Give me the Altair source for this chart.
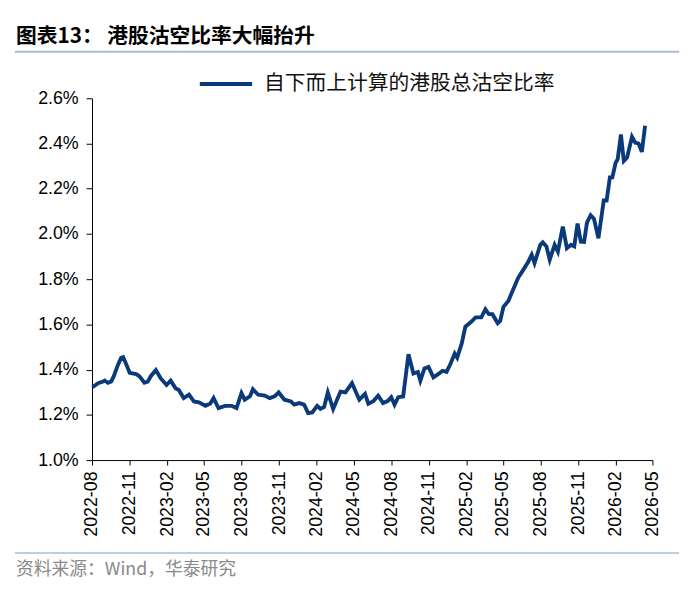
import altair as alt
import pandas as pd

TITLE = "图表13：   港股沽空比率大幅抬升"
SERIES = "自下而上计算的港股总沽空比率"
SOURCE = "资料来源：Wind，华泰研究"

dates = [
    "2022-08-02", "2022-08-16", "2022-08-28", "2022-09-01", "2022-09-09", "2022-09-17",
    "2022-09-23", "2022-10-03", "2022-10-11", "2022-10-16", "2022-10-22", "2022-11-01",
    "2022-11-17", "2022-11-25", "2022-12-07", "2022-12-15", "2022-12-23", "2023-01-04",
    "2023-01-16", "2023-01-30", "2023-02-09", "2023-02-21", "2023-03-01", "2023-03-13",
    "2023-03-26", "2023-04-07", "2023-04-19", "2023-05-05", "2023-05-17", "2023-05-25",
    "2023-06-06", "2023-06-22", "2023-07-08", "2023-07-20", "2023-08-01", "2023-08-09",
    "2023-08-22", "2023-08-29", "2023-09-11", "2023-09-27", "2023-10-09", "2023-10-21",
    "2023-10-31", "2023-11-14", "2023-11-30", "2023-12-08", "2023-12-20", "2024-01-01",
    "2024-01-11", "2024-01-21", "2024-02-02", "2024-02-10", "2024-02-19", "2024-02-28",
    "2024-03-12", "2024-03-30", "2024-04-11", "2024-04-27", "2024-05-15", "2024-05-29",
    "2024-06-06", "2024-06-18", "2024-06-30", "2024-07-12", "2024-07-24", "2024-08-01",
    "2024-08-09", "2024-08-18", "2024-08-30", "2024-09-12", "2024-09-24", "2024-10-05",
    "2024-10-11", "2024-10-21", "2024-10-31", "2024-11-12", "2024-11-26", "2024-12-04",
    "2024-12-14", "2024-12-24", "2025-01-03", "2025-01-09", "2025-01-20", "2025-01-29",
    "2025-02-11", "2025-02-23", "2025-03-09", "2025-03-19", "2025-03-27", "2025-04-05",
    "2025-04-18", "2025-04-24", "2025-05-02", "2025-05-14", "2025-05-26", "2025-06-07",
    "2025-06-19", "2025-07-01", "2025-07-10", "2025-07-17", "2025-07-31", "2025-08-06",
    "2025-08-15", "2025-08-23", "2025-09-04", "2025-09-12", "2025-09-24", "2025-10-04",
    "2025-10-14", "2025-10-22", "2025-10-30", "2025-11-07", "2025-11-15", "2025-11-22",
    "2025-12-01", "2025-12-09", "2025-12-20", "2026-01-02", "2026-01-09", "2026-01-17",
    "2026-01-23", "2026-01-31", "2026-02-05", "2026-02-13", "2026-02-20", "2026-02-28",
    "2026-03-12", "2026-03-20", "2026-03-28", "2026-04-05", "2026-04-13",
]

ratio_pct = [
    1.322, 1.340, 1.347, 1.352, 1.342, 1.348,
    1.370, 1.420, 1.452, 1.455, 1.430, 1.386,
    1.380, 1.370, 1.342, 1.347, 1.372, 1.398,
    1.361, 1.332, 1.351, 1.318, 1.310, 1.274,
    1.289, 1.259, 1.255, 1.240, 1.250, 1.274,
    1.230, 1.240, 1.240, 1.230, 1.296, 1.267,
    1.282, 1.313, 1.289, 1.285, 1.274, 1.282,
    1.299, 1.267, 1.259, 1.245, 1.252, 1.245,
    1.208, 1.211, 1.240, 1.226, 1.235, 1.299,
    1.226, 1.303, 1.299, 1.340, 1.267, 1.293,
    1.249, 1.260, 1.285, 1.252, 1.262, 1.278,
    1.245, 1.278, 1.281, 1.468, 1.383, 1.390,
    1.351, 1.405, 1.412, 1.366, 1.383, 1.395,
    1.390, 1.427, 1.471, 1.453, 1.515, 1.590,
    1.609, 1.631, 1.631, 1.667, 1.646, 1.645,
    1.605, 1.615, 1.678, 1.704, 1.755, 1.806,
    1.840, 1.875, 1.908, 1.871, 1.952, 1.963,
    1.945, 1.886, 1.952, 1.922, 2.032, 1.937,
    1.952, 1.945, 2.046, 1.966, 1.965, 2.050,
    2.083, 2.068, 1.981, 2.148, 2.148, 2.250,
    2.250, 2.315, 2.330, 2.440, 2.323, 2.338,
    2.430, 2.404, 2.400, 2.363, 2.479,
]

y_ticks = [1.0, 1.2, 1.4, 1.6, 1.8, 2.0, 2.2, 2.4, 2.6]
x_tick_months = [
    (2022, 8), (2022, 11), (2023, 2), (2023, 5), (2023, 8), (2023, 11),
    (2024, 2), (2024, 5), (2024, 8), (2024, 11), (2025, 2), (2025, 5),
    (2025, 8), (2025, 11), (2026, 2), (2026, 5),
]

LINE_COLOR = "#0a3a7a"
RULE_COLOR = "#a9bcd6"
NUM_FONT = "Liberation Sans"
CJK_FONT = "Noto Sans CJK SC"

df = pd.DataFrame({"date": dates, "ratio": ratio_pct, "series": SERIES})

x_vals = [alt.DateTime(year=y, month=m, date=1, utc=True) for y, m in x_tick_months]

line = alt.Chart(df).mark_line(strokeWidth=3.9, interpolate="linear").encode(
    x=alt.X(
        "date:T",
        scale=alt.Scale(
            type="utc",
            domain=[alt.DateTime(year=2022, month=8, date=1, utc=True),
                    alt.DateTime(year=2026, month=5, date=1, utc=True)],
        ),
        axis=alt.Axis(
            values=x_vals,
            labelExpr="utcFormat(datum.value, '%Y-%m')",
            labelAngle=270,
            labelAlign="right",
            labelBaseline="middle",
            labelFont=NUM_FONT,
            labelFontSize=18,
            labelColor="#000000",
            labelPadding=6,
            tickSize=5,
            tickColor="#000000",
            domainColor="#000000",
            grid=False,
            title=None,
            labelOverlap=False,
        ),
    ),
    y=alt.Y(
        "ratio:Q",
        scale=alt.Scale(domain=[1.0, 2.6], nice=False, zero=False),
        axis=alt.Axis(
            values=y_ticks,
            labelExpr="format(datum.value, '.1f') + '%'",
            labelFont=NUM_FONT,
            labelFontSize=18,
            labelColor="#000000",
            labelPadding=8,
            tickSize=6,
            tickColor="#000000",
            domainColor="#000000",
            grid=False,
            title=None,
        ),
    ),
    color=alt.Color(
        "series:N",
        scale=alt.Scale(range=[LINE_COLOR]),
        legend=alt.Legend(
            title=None,
            orient="none",
            legendX=107,
            legendY=-43,
            symbolType="stroke",
            symbolSize=2800,
            symbolStrokeWidth=4,
            labelFont=CJK_FONT,
            labelFontSize=21,
            labelColor="#111111",
            labelOffset=10,
            padding=0,
            labelLimit=500,
        ),
    ),
)

one = pd.DataFrame({"t": [TITLE]})
title = alt.Chart(one).mark_text(
    align="left", baseline="middle", font=CJK_FONT, fontSize=21, fontWeight="bold", color="#000000"
).encode(text="t:N", x=alt.value(-77), y=alt.value(-62))

src = pd.DataFrame({"t": [SOURCE]})
source = alt.Chart(src).mark_text(
    align="left", baseline="middle", font=CJK_FONT, fontSize=18, color="#8a8a8a"
).encode(text="t:N", x=alt.value(-77), y=alt.value(477))

rule_df = pd.DataFrame({"a": [0]})
top_rule = alt.Chart(rule_df).mark_rule(color=RULE_COLOR, strokeWidth=2).encode(
    x=alt.value(-78), x2=alt.value(594), y=alt.value(-47)
)
bottom_rule = alt.Chart(rule_df).mark_rule(color=RULE_COLOR, strokeWidth=1.5).encode(
    x=alt.value(-78), x2=alt.value(594), y=alt.value(460)
)

chart = alt.layer(line, title, source, top_rule, bottom_rule).properties(
    width=567,
    height=366,
    autosize=alt.AutoSizeParams(type="none"),
    padding={"left": 85, "top": 88, "right": 40, "bottom": 120},
    background="#ffffff",
).configure_view(stroke=None)

chart.save("out.html", embed_options={"renderer": "svg", "actions": False})
